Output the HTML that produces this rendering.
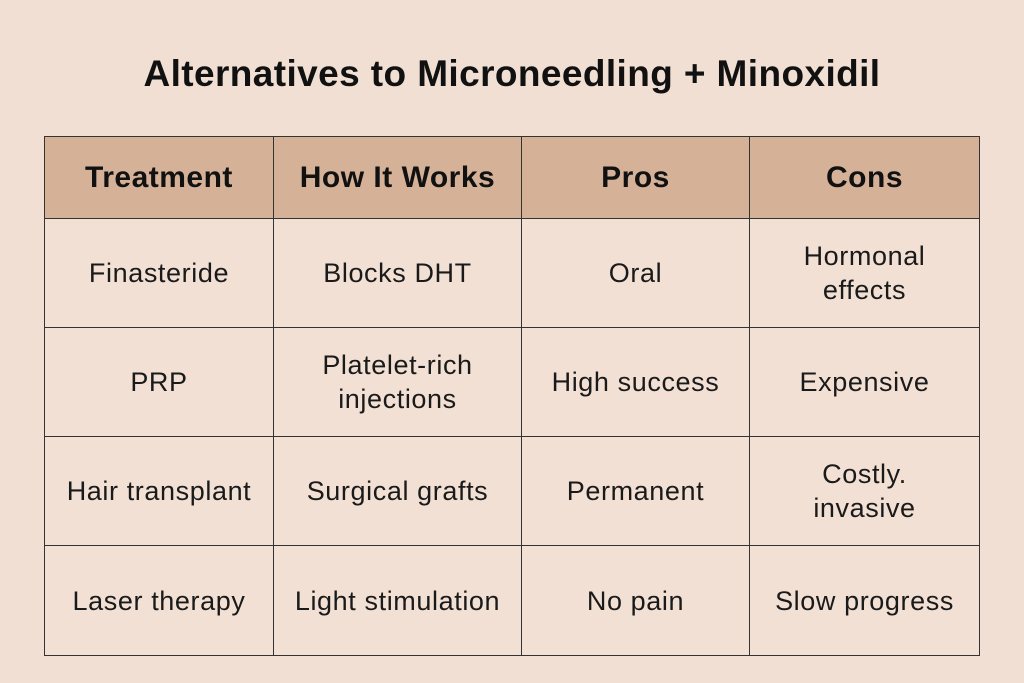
<!DOCTYPE html>
<html><head><meta charset="utf-8"><style>
body{margin:0;width:1024px;height:683px;background:#f1dfd3;font-family:"Liberation Sans",sans-serif;position:relative;overflow:hidden}
h1{position:absolute;left:0;width:1024px;top:52px;margin:0;text-align:center;font-size:37px;font-weight:bold;color:#111;line-height:44px;letter-spacing:0.4px}
.c{position:absolute;display:flex;align-items:center;justify-content:center;text-align:center;font-size:27px;letter-spacing:0.6px;color:#1a1a1a;line-height:34px;box-sizing:border-box;border:1.5px solid #333;background:#f2e0d4}
.h{background:#d5b198;font-weight:bold;font-size:30px;letter-spacing:0.5px;color:#111}
</style></head><body>
<h1>Alternatives to Microneedling + Minoxidil</h1>
<div id="t"></div>
<script>
const cols=[44,273,521,749,979], rows=[136,218,327,436,545,655];
const d=[["Treatment","How It Works","Pros","Cons"],
["Finasteride","Blocks DHT","Oral","Hormonal<br>effects"],
["PRP","Platelet-rich<br>injections","High success","Expensive"],
["Hair transplant","Surgical grafts","Permanent","Costly.<br>invasive"],
["Laser therapy","Light stimulation","No pain","Slow progress"]];
let h="";
for(let r=0;r<5;r++)for(let c=0;c<4;c++){
h+=`<div class="c${r==0?' h':''}" style="left:${cols[c]}px;top:${rows[r]}px;width:${cols[c+1]-cols[c]+1}px;height:${rows[r+1]-rows[r]+1}px">${d[r][c]}</div>`;}
document.getElementById("t").innerHTML=h;
</script>
</body></html>
